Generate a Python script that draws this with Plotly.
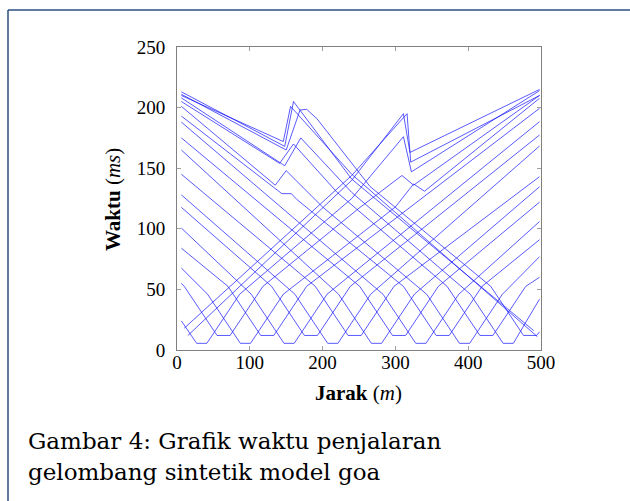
import plotly.graph_objects as go

# ---- data (x in m, t in ms) ----
x_A1 = [15, 240, 311, 320, 498]
t_A1 = [12, 140, 195, 163, 215]
x_A2 = [10, 240, 316, 321, 498]
t_A2 = [18, 144, 195, 155, 210]
x_S34 = [6, 27, 41, 86, 240, 311, 322, 498]
t_S34 = [24, 5.5, 5.5, 46, 125, 176, 147, 214]
x_S64 = [6, 10, 55, 73, 118, 250, 309, 325, 498]
t_S64 = [55, 52.5, 12, 12, 52.5, 117, 144, 136, 210]
x_S94 = [6, 42, 87, 101, 146, 300, 325, 340, 498]
t_S94 = [67.6, 46, 5.5, 5.5, 46, 118, 137, 131, 207.7]
x_S124 = [6, 70, 115, 133, 178, 498]
t_S124 = [84, 52.5, 12, 12, 52.5, 199.4]
x_S154 = [6, 102, 147, 161, 206, 498]
t_S154 = [100.6, 46, 5.5, 5.5, 46, 188.4]
x_S184 = [6, 130, 175, 193, 238, 498]
t_S184 = [117.7, 52.5, 12, 12, 52.5, 177.4]
x_S214 = [6, 162, 207, 221, 266, 498]
t_S214 = [128, 46, 5.5, 5.5, 46, 168.3]
x_S244 = [6, 190, 235, 253, 298, 498]
t_S244 = [145, 52.5, 12, 12, 52.5, 143]
x_S274 = [6, 222, 267, 281, 326, 498]
t_S274 = [165, 46, 5.5, 5.5, 46, 134.7]
x_S305 = [6, 251, 296, 314, 359, 498]
t_S305 = [175, 52.5, 12, 12, 52.5, 122]
x_S335 = [6, 283, 328, 342, 387, 498]
t_S335 = [188, 46, 5.5, 5.5, 46, 106]
x_S365 = [6, 144, 157, 165, 311, 356, 374, 419, 498]
t_S365 = [193, 129, 129, 124, 52.5, 12, 12, 52.5, 91]
x_S395 = [6, 135, 150, 200, 343, 388, 402, 447, 498]
t_S395 = [201, 136, 148, 118, 46, 5.5, 5.5, 46, 77]
x_S425 = [6, 141, 160, 220, 371, 416, 434, 479, 498]
t_S425 = [205, 154, 170, 130, 52.5, 12, 12, 52.5, 60]
x_S455 = [6, 148, 170, 240, 403, 448, 462, 498]
t_S455 = [208, 152, 175, 130, 46, 5.5, 5.5, 42]
x_S485 = [6, 150, 169, 178, 192, 265, 431, 476, 494, 498]
t_S485 = [211, 165, 198, 198.6, 191, 135, 52.5, 12, 12, 15]
x_B1 = [6, 148, 160, 240, 490]
t_B1 = [213, 168, 205, 141, 16]
x_B2 = [6, 146, 156, 240, 495]
t_B2 = [210, 172, 201, 145, 11]

x_ticks = [0, 100, 200, 300, 400, 500]
y_ticks = [0, 50, 100, 150, 200, 250]

curves = [
    (x_A1, t_A1), (x_A2, t_A2), (x_S34, t_S34), (x_S64, t_S64), (x_S94, t_S94),
    (x_S124, t_S124), (x_S154, t_S154), (x_S184, t_S184), (x_S214, t_S214),
    (x_S244, t_S244), (x_S274, t_S274), (x_S305, t_S305), (x_S335, t_S335),
    (x_S365, t_S365), (x_S395, t_S395), (x_S425, t_S425), (x_S455, t_S455),
    (x_S485, t_S485), (x_B1, t_B1), (x_B2, t_B2),
]

fig = go.Figure()
for xs, ts in curves:
    fig.add_trace(go.Scatter(x=xs, y=ts, mode="lines",
                             line=dict(color="rgba(20,20,255,0.7)", width=1),
                             hoverinfo="skip", showlegend=False))

serif = "Liberation Serif, DejaVu Serif, serif"
axis_common = dict(showgrid=False, zeroline=False, showline=True, linecolor="#808080",
                   linewidth=1, mirror="ticks", ticks="inside", ticklen=4,
                   tickcolor="#a0a0a0", tickfont=dict(family=serif, size=19, color="black"))

fig.update_layout(
    width=630, height=501,
    margin=dict(l=177, r=89, t=47, b=151),
    paper_bgcolor="white", plot_bgcolor="white",
    xaxis=dict(range=[0, 500], tickvals=x_ticks, ticklabelstandoff=-5, **axis_common),
    yaxis=dict(range=[0, 250], tickvals=y_ticks, ticklabelstandoff=7, **axis_common),
)

# px -> paper helpers for the fixed layout
def px_x(p):
    return (p - 177) / 364.0

def px_y(p):
    return (350 - p) / 303.0

fig.add_annotation(text="<b>Jarak</b> (<i>m</i>)", xref="paper", yref="paper",
                   x=px_x(358), y=px_y(393), showarrow=False,
                   xanchor="center", yanchor="middle",
                   font=dict(family=serif, size=21, color="black"))
fig.add_annotation(text="<b>Waktu</b> (<i>ms</i>)", xref="paper", yref="paper",
                   x=px_x(113), y=px_y(200), showarrow=False, textangle=-90,
                   xanchor="center", yanchor="middle",
                   font=dict(family=serif, size=21, color="black"))
cap_font = dict(family="DejaVu Serif, serif", size=23, color="black")
fig.add_annotation(text="Gambar 4: Grafik waktu penjalaran", xref="paper", yref="paper",
                   x=px_x(26), y=px_y(441), showarrow=False,
                   xanchor="left", yanchor="middle", font=cap_font)
fig.add_annotation(text="gelombang sintetik model goa", xref="paper", yref="paper",
                   x=px_x(26), y=px_y(472), showarrow=False,
                   xanchor="left", yanchor="middle", font=cap_font)

# page border (top and left edges of the framed figure)
border = dict(color="#2b4f80", width=1.5)
fig.add_shape(type="line", xref="paper", yref="paper",
              x0=px_x(8), x1=px_x(631), y0=px_y(10), y1=px_y(10), line=border)
fig.add_shape(type="line", xref="paper", yref="paper",
              x0=px_x(8), x1=px_x(8), y0=px_y(10), y1=px_y(502), line=border)

fig.write_html("out.html", config={"displayModeBar": False},
               post_script="document.body.style.margin='0';document.body.style.overflow='hidden';")
